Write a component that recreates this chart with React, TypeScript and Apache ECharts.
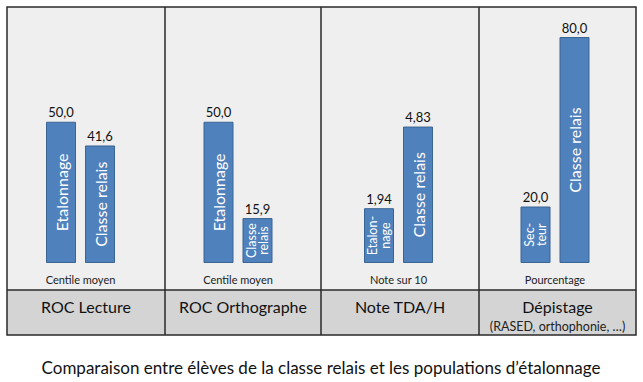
import React, { useEffect, useRef } from "react";
import * as echarts from "echarts";

const panelTitles = ["ROC Lecture", "ROC Orthographe", "Note TDA/H", "Dépistage"];
const panelSubtitles = ["", "", "", "(RASED, orthophonie, …)"];
const unitLabels = ["Centile moyen", "Centile moyen", "Note sur 10", "Pourcentage"];
const referenceValues = [50.0, 50.0, 1.94, 20.0];
const relaisValues = [41.6, 15.9, 4.83, 80.0];
const referenceNames = ["Etalonnage", "Etalonnage", "Etalon-\nnage", "Sec-\nteur"];
const relaisNames = ["Classe relais", "Classe\nrelais", "Classe relais", "Classe relais"];
const decimals = [1, 1, 2, 1];
const axisMax = [80, 80, 8, 80];
const caption = "Comparaison entre élèves de la classe relais et les populations d’étalonnage";

const FONT = "Lato, 'Open Sans', sans-serif";
const panelEdges = [7, 165, 321, 479, 636];
const gridLefts = [41.5, 199, 359.5, 516];

export default function App() {
  const ref = useRef<HTMLDivElement>(null);
  useEffect(() => {
    if (!ref.current) return;
    const chart = echarts.init(ref.current, null, { renderer: "svg" });
    const grids: any[] = [];
    const xAxes: any[] = [];
    const yAxes: any[] = [];
    const series: any[] = [];
    panelTitles.forEach((_, i) => {
      grids.push({ left: gridLefts[i], width: 78, top: 37, bottom: 382 - 263, containLabel: false });
      xAxes.push({
        type: "category",
        gridIndex: i,
        data: ["ref", "relais"],
        axisLine: { show: false },
        axisTick: { show: false },
        axisLabel: { show: false },
        name: unitLabels[i],
        nameLocation: "middle",
        nameGap: 11,
        nameTextStyle: { fontFamily: FONT, fontSize: 11, color: "#222" },
      });
      yAxes.push({ type: "value", gridIndex: i, min: 0, max: axisMax[i], show: false, splitLine: { show: false } });
      const vals = [referenceValues[i], relaisValues[i]];
      const names = [referenceNames[i], relaisNames[i]];
      series.push({
        type: "bar",
        xAxisIndex: i,
        yAxisIndex: i,
        barWidth: 30,
        data: vals,
        itemStyle: { color: "#4f81bd", borderColor: "#3a6593", borderWidth: 1 },
        label: {
          show: true,
          position: "top",
          distance: 3,
          fontFamily: FONT,
          fontSize: 13,
          color: "#111",
          formatter: (p: any) => Number(p.value).toFixed(decimals[i]).replace(".", ","),
        },
        z: 3,
      });
      series.push({
        type: "bar",
        xAxisIndex: i,
        yAxisIndex: i,
        barWidth: 30,
        barGap: "-100%",
        data: vals.map((v, k) => ({
          value: v,
          label: {
            fontSize: names[k].includes("\n") ? 12.5 : 16,
            lineHeight: names[k].includes("\n") ? 12.5 : 18,
          },
        })),
        itemStyle: { color: "rgba(0,0,0,0)" },
        label: {
          show: true,
          position: "inside",
          rotate: 90,
          align: "center",
          verticalAlign: "middle",
          fontFamily: FONT,
          color: "#fff",
          formatter: (p: any) => names[p.dataIndex],
        },
        z: 4,
      });
    });

    const graphics: any[] = [
      { type: "rect", z: -10, shape: { x: 7, y: 7, width: 629, height: 283 }, style: { fill: "#efefef" } },
      { type: "rect", z: -10, shape: { x: 7, y: 290, width: 629, height: 45 }, style: { fill: "#d4d4d4" } },
      { type: "rect", z: 50, shape: { x: 7, y: 7, width: 629, height: 328 }, style: { fill: "none", stroke: "#2a2a2a", lineWidth: 1.5 } },
      { type: "line", z: 50, shape: { x1: 7, y1: 290, x2: 636, y2: 290 }, style: { stroke: "#2a2a2a", lineWidth: 1.5 } },
    ];
    [1, 2, 3].forEach((k) => {
      graphics.push({ type: "line", z: 50, shape: { x1: panelEdges[k], y1: 7, x2: panelEdges[k], y2: 335 }, style: { stroke: "#2a2a2a", lineWidth: 1.5 } });
    });
    panelTitles.forEach((t, i) => {
      const cx = (panelEdges[i] + panelEdges[i + 1]) / 2;
      graphics.push({
        type: "text", z: 60, x: cx, y: 306,
        style: { text: t, fontFamily: FONT, fontSize: 16, fill: "#111", textAlign: "center", textVerticalAlign: "middle" },
      });
      if (panelSubtitles[i]) {
        graphics.push({
          type: "text", z: 60, x: cx, y: 326,
          style: { text: panelSubtitles[i], fontFamily: FONT, fontSize: 12.5, fill: "#222", textAlign: "center", textVerticalAlign: "middle" },
        });
      }
    });
    graphics.push({
      type: "text", z: 60, x: 321, y: 367,
      style: { text: caption, fontFamily: FONT, fontSize: 17, fill: "#111", textAlign: "center", textVerticalAlign: "middle" },
    });

    chart.setOption({
      animation: false,
      backgroundColor: "#ffffff",
      grid: grids,
      xAxis: xAxes,
      yAxis: yAxes,
      series,
      graphic: graphics,
    });
    return () => chart.dispose();
  }, []);
  return <div ref={ref} style={{ position: "fixed", left: 0, top: 0, width: 643, height: 382 }} />;
}
